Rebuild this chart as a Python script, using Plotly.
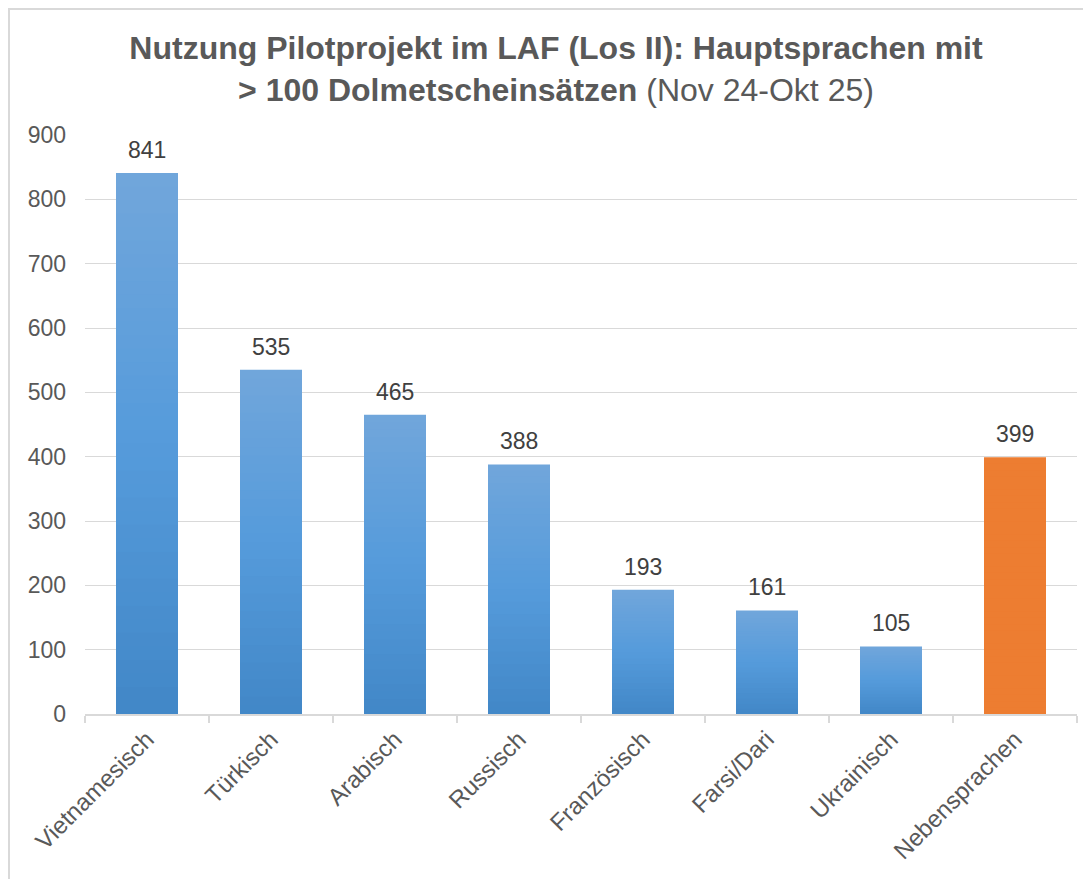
import plotly.graph_objects as go

categories = ["Vietnamesisch", "Türkisch", "Arabisch", "Russisch", "Französisch",
              "Farsi/Dari", "Ukrainisch", "Nebensprachen"]
values = [841, 535, 465, 388, 193, 161, 105, 399]
is_other = [False, False, False, False, False, False, False, True]
y_ticks = [0, 100, 200, 300, 400, 500, 600, 700, 800, 900]

# the page body adds an 8px offset; the figure is sized to fit the window
W, H = 1083, 871
L, R, T, B = 77, 14, 127, 165
PW, PH = W - L - R, H - T - B

# gradient stops for blue bars (top -> middle -> bottom)
stops = [(0.0, (113, 166, 219)), (0.5, (85, 155, 219)), (1.0, (66, 135, 199))]
ORANGE = "#ED7D31"
FONT = "Arial, Liberation Sans, sans-serif"


def grad(t):
    for (t0, c0), (t1, c1) in zip(stops[:-1], stops[1:]):
        if t <= t1:
            u = (t - t0) / (t1 - t0)
            return "rgb(%d,%d,%d)" % tuple(round(a + (b - a) * u) for a, b in zip(c0, c1))
    return "rgb(%d,%d,%d)" % stops[-1][1]


N = 40
fig = go.Figure()
for k in range(N):
    frac = 1 - k / N
    tmid = (k + 0.5) / N  # 0 at top, 1 at bottom
    colors = [ORANGE if o else grad(tmid) for o in is_other]
    fig.add_trace(go.Bar(
        x=categories,
        y=[v * frac for v in values],
        marker=dict(color=colors, line=dict(width=0)),
        hoverinfo="skip",
        showlegend=False,
    ))

for c, v in zip(categories, values):
    fig.add_annotation(x=c, y=v, text=str(v), showarrow=False,
                       yanchor="bottom", yshift=8,
                       font=dict(family=FONT, size=23, color="#404040"))

fig.update_layout(
    width=W, height=H,
    margin=dict(l=L, r=R, t=T, b=B),
    paper_bgcolor="white", plot_bgcolor="white",
    barmode="overlay", bargap=0.5,
    font=dict(family=FONT, color="#595959"),
    title=dict(
        text="<b>Nutzung Pilotprojekt im LAF (Los II): Hauptsprachen mit<br>&gt; 100 Dolmetscheinsätzen</b> (Nov 24-Okt 25)",
        x=548 / W, xanchor="center", xref="container",
        y=1 - 51 / H, yanchor="top", yref="container",
        font=dict(size=32, color="#595959", family=FONT),
    ),
    xaxis=dict(
        tickangle=-45, tickfont=dict(size=24, color="#595959"),
        showline=True, linecolor="#d9d9d9", linewidth=1.5,
        ticks="outside", tickson="boundaries", ticklen=7, tickcolor="#d9d9d9", tickwidth=1.5,
        showgrid=False,
    ),
    yaxis=dict(
        range=[0, 900], tickvals=y_ticks, tickfont=dict(size=23, color="#595959"),
        showgrid=True, gridcolor="#d9d9d9", gridwidth=1,
        zeroline=False, showline=False, ticks="", ticklabelstandoff=18,
    ),
    shapes=[dict(type="rect", xref="paper", yref="paper",
                 x0=-(L - 1) / PW, x1=1.5, y0=-1, y1=1 + (T - 1) / PH,
                 line=dict(color="#d9d9d9", width=2), fillcolor="rgba(0,0,0,0)", layer="below")],
)

fig.write_html("out.html")
